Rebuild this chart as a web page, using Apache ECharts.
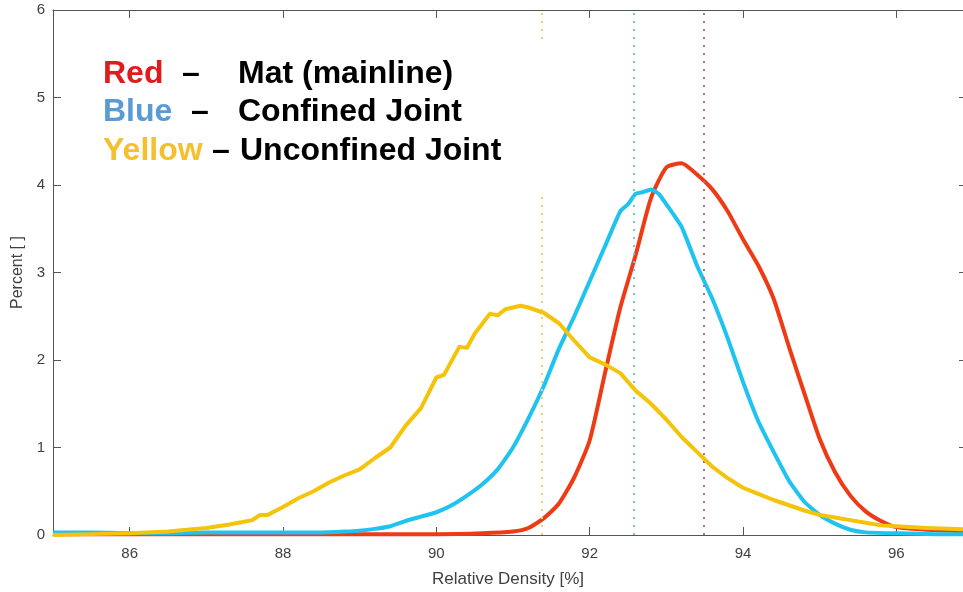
<!DOCTYPE html>
<html>
<head>
<meta charset="utf-8">
<script src="https://cdn.jsdelivr.net/npm/echarts@6/dist/echarts.min.js"></script>
<style>
html,body{margin:0;padding:0;background:#fff;}
#chart{width:963px;height:592px;}
</style>
</head>
<body>
<div id="chart"></div>
<script>
// ---- data ----
var xTickValues = [86, 88, 90, 92, 94, 96];
var yTickValues = [0, 1, 2, 3, 4, 5, 6];

var redX = [85.0, 86.0, 87.0, 88.0, 89.0, 90.0, 90.6, 91.0, 91.2, 91.4, 91.6, 91.8, 92.0, 92.2, 92.4, 92.6, 92.8, 93.0, 93.2, 93.4, 93.6, 93.8, 94.0, 94.2, 94.4, 94.6, 94.8, 95.0, 95.2, 95.4, 95.6, 95.8, 96.0, 96.4, 97.0];
var redY = [0.01, 0.01, 0.01, 0.01, 0.01, 0.01, 0.02, 0.04, 0.08, 0.19, 0.36, 0.66, 1.08, 1.85, 2.6, 3.2, 3.85, 4.2, 4.25, 4.12, 3.95, 3.7, 3.38, 3.08, 2.7, 2.15, 1.62, 1.1, 0.72, 0.45, 0.27, 0.16, 0.09, 0.06, 0.04];

var blueX = [85.0, 85.5, 86.0, 86.5, 87.0, 87.5, 88.0, 88.5, 88.8, 89.0, 89.2, 89.4, 89.6, 89.8, 90.0, 90.2, 90.4, 90.6, 90.8, 91.0, 91.2, 91.4, 91.6, 91.8, 92.0, 92.2, 92.4, 92.5, 92.6, 92.7, 92.8, 92.9, 93.0, 93.2, 93.4, 93.6, 93.8, 94.0, 94.2, 94.4, 94.6, 94.8, 95.0, 95.2, 95.4, 95.6, 96.0, 96.5, 97.0];
var blueY = [0.03, 0.03, 0.02, 0.02, 0.03, 0.03, 0.03, 0.03, 0.04, 0.05, 0.07, 0.1, 0.16, 0.21, 0.26, 0.34, 0.45, 0.58, 0.75, 1.0, 1.33, 1.7, 2.13, 2.5, 2.9, 3.3, 3.7, 3.78, 3.9, 3.92, 3.95, 3.9, 3.78, 3.52, 3.08, 2.7, 2.25, 1.75, 1.3, 0.95, 0.62, 0.38, 0.23, 0.13, 0.06, 0.03, 0.02, 0.01, 0.01];

var yellowX = [85.0, 85.5, 86.0, 86.5, 87.0, 87.3, 87.6, 87.7, 87.8, 88.0, 88.2, 88.4, 88.6, 88.8, 89.0, 89.2, 89.4, 89.6, 89.8, 90.0, 90.1, 90.3, 90.4, 90.5, 90.7, 90.8, 90.9, 91.1, 91.2, 91.4, 91.6, 91.8, 92.0, 92.2, 92.4, 92.6, 92.8, 93.0, 93.2, 93.4, 93.6, 93.8, 94.0, 94.2, 94.4, 94.6, 94.8, 95.0, 95.2, 95.4, 95.6, 95.8, 96.0, 96.4, 97.0];
var yellowY = [0.0, 0.01, 0.02, 0.04, 0.08, 0.12, 0.17, 0.23, 0.23, 0.32, 0.42, 0.5, 0.6, 0.68, 0.75, 0.88, 1.0, 1.25, 1.45, 1.8, 1.83, 2.15, 2.14, 2.3, 2.53, 2.51, 2.58, 2.62, 2.6, 2.54, 2.42, 2.22, 2.03, 1.95, 1.85, 1.65, 1.5, 1.32, 1.12, 0.95, 0.78, 0.65, 0.54, 0.47, 0.4, 0.34, 0.28, 0.23, 0.2, 0.17, 0.14, 0.11, 0.1, 0.08, 0.06];

var meanRed = 93.49;
var meanBlue = 92.57;
var meanYellow = 91.38;

var legendLines = [
  {word: 'Red', dash: '–', label: 'Mat (mainline)'},
  {word: 'Blue', dash: '–', label: 'Confined Joint'},
  {word: 'Yellow', dash: '–', label: 'Unconfined Joint'}
];

// ---- chart ----
function pairs(xs, ys) { return xs.map(function (x, i) { return [x, ys[i]]; }); }

var FONT = '"Liberation Sans", Arial, sans-serif';
var axisCol = '#555555';
var labelCol = '#404040';

var chart = echarts.init(document.getElementById('chart'), null, {renderer: 'canvas'});

function markV(val, col) {
  return {
    silent: true, symbol: 'none', label: {show: false},
    lineStyle: {type: [2, 6], width: 2, color: col},
    emphasis: {disabled: true},
    data: [{xAxis: val}]
  };
}

var legendX = {word: 103, dash: [182, 191, 212], label: [238, 238, 240]};
var legendY = [74, 112, 151];
var wordCols = ['#e01b1b', '#5b9bd5', '#f5c02e'];

var graphics = [{
  type: 'rect', z: 100,
  shape: {x: 88, y: 43, width: 462, height: 150},
  style: {fill: '#ffffff'}
}];
legendLines.forEach(function (l, i) {
  graphics.push({type: 'text', z: 101, x: legendX.word, y: legendY[i],
    style: {text: l.word, font: 'bold 32px ' + FONT, fill: wordCols[i], verticalAlign: 'middle'}});
  graphics.push({type: 'text', z: 101, x: legendX.dash[i], y: legendY[i],
    style: {text: l.dash, font: 'bold 32px ' + FONT, fill: '#000', verticalAlign: 'middle'}});
  graphics.push({type: 'text', z: 101, x: legendX.label[i], y: legendY[i],
    style: {text: l.label, font: 'bold 32px ' + FONT, fill: '#000', verticalAlign: 'middle'}});
});

var option = {
  backgroundColor: '#ffffff',
  animation: false,
  grid: {left: 53, right: 0, top: 10, bottom: 57, containLabel: false, outerBoundsMode: 'none'},
  xAxis: [{
    type: 'value', min: 85, max: 96.87, position: 'bottom',
    name: 'Relative Density [%]', nameLocation: 'middle', nameGap: 36,
    nameTextStyle: {fontFamily: FONT, fontSize: 17, color: labelCol},
    axisLine: {show: true, onZero: false, lineStyle: {color: axisCol, width: 1}},
    axisTick: {show: true, inside: true, length: 8, customValues: xTickValues, lineStyle: {color: axisCol}},
    axisLabel: {show: true, customValues: xTickValues, margin: 11, fontFamily: FONT, fontSize: 15, color: labelCol},
    splitLine: {show: false}
  }, {
    type: 'value', min: 85, max: 96.87, position: 'top',
    axisLine: {show: true, onZero: false, lineStyle: {color: axisCol, width: 1}},
    axisTick: {show: true, inside: true, length: 8, customValues: xTickValues, lineStyle: {color: axisCol}},
    axisLabel: {show: false},
    splitLine: {show: false}
  }],
  yAxis: [{
    type: 'value', min: 0, max: 6, interval: 1, position: 'left',
    name: 'Percent [ ]', nameLocation: 'middle', nameGap: 25, nameRotate: 90,
    nameTextStyle: {fontFamily: FONT, fontSize: 16, color: labelCol},
    axisLine: {show: true, onZero: false, lineStyle: {color: axisCol, width: 1}},
    axisTick: {show: true, inside: true, length: 8, lineStyle: {color: axisCol}},
    axisLabel: {show: true, margin: 8, fontFamily: FONT, fontSize: 15, color: labelCol,
      customValues: yTickValues},
    splitLine: {show: false}
  }, {
    type: 'value', min: 0, max: 6, interval: 1, position: 'right',
    axisLine: {show: false},
    axisTick: {show: true, inside: true, length: 4, lineStyle: {color: axisCol}},
    axisLabel: {show: false},
    splitLine: {show: false}
  }],
  series: [{
    name: 'Mat (mainline)', type: 'line', xAxisIndex: 0, yAxisIndex: 0,
    data: pairs(redX, redY), showSymbol: false, smooth: 0.2, clip: true,
    lineStyle: {color: '#ef3a16', width: 4}, itemStyle: {color: '#ef3a16'},
    markLine: markV(meanRed, '#b87070'), z: 3
  }, {
    name: 'Confined Joint', type: 'line', xAxisIndex: 0, yAxisIndex: 0,
    data: pairs(blueX, blueY), showSymbol: false, smooth: 0.15, clip: true,
    lineStyle: {color: '#1ec4ef', width: 4}, itemStyle: {color: '#1ec4ef'},
    markLine: markV(meanBlue, '#6cc6ea'), z: 4
  }, {
    name: 'Unconfined Joint', type: 'line', xAxisIndex: 0, yAxisIndex: 0,
    data: pairs(yellowX, yellowY), showSymbol: false, smooth: false, clip: true,
    lineStyle: {color: '#f4c30a', width: 4, join: 'round'}, itemStyle: {color: '#f4c30a'},
    markLine: markV(meanYellow, '#ecd37a'), z: 5
  }],
  graphic: graphics
};
chart.setOption(option);
</script>
</body>
</html>
